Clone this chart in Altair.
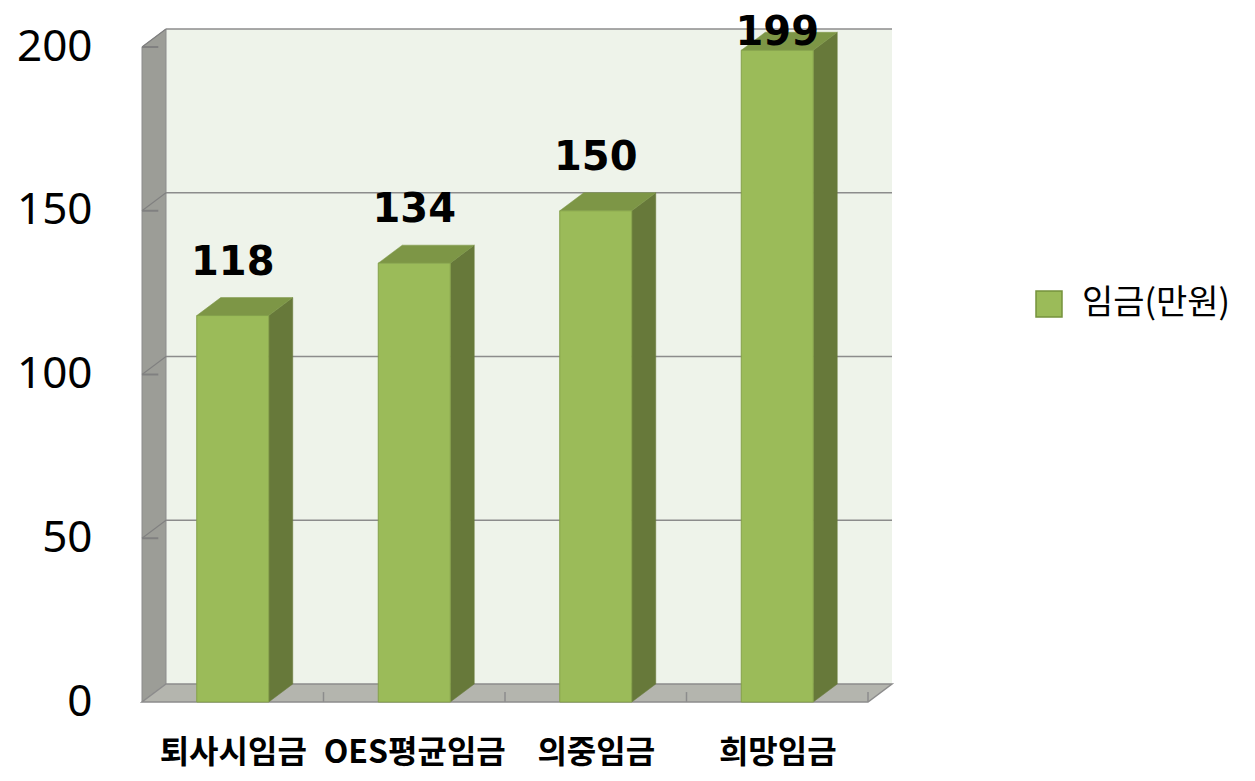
import altair as alt
import pandas as pd

# ---------------- data ----------------
categories = ["퇴사시임금", "OES평균임금", "의중임금", "희망임금"]
wages = [118, 134, 150, 199]
series_name = "임금(만원)"
y_ticks = [0, 50, 100, 150, 200]

# ---------------- style / geometry ----------------
N = len(categories)
YMAX = 200
SLOT_PX = 181.5          # width of one category slot on the front plane
UNIT_PX = 3.275          # pixels per value unit
DEPTH_X_PX = 24          # 3-D depth offset (pixels)
DEPTH_Y_PX = 18
DX = DEPTH_X_PX / SLOT_PX
DY = DEPTH_Y_PX / UNIT_PX
BAR_W = 72 / SLOT_PX
LABEL_CAP = 188          # value labels are kept inside the chart area
W = SLOT_PX * N + DEPTH_X_PX
H = UNIT_PX * YMAX + DEPTH_Y_PX

GREEN = "#9BBB59"
GREEN_SIDE = "#67793A"
GREEN_TOP = "#7D9646"
GREEN_EDGE = "#84A04A"
WALL = "#EEF3EA"
SIDE_WALL = "#9C9D97"
FLOOR = "#B4B5AE"
LINE = "#8C8C8C"

xs = alt.Scale(domain=[0, N + DX], nice=False, zero=False)
ys = alt.Scale(domain=[0, YMAX + DY], nice=False, zero=False)

label_expr = "[" + ",".join("'" + c + "'" for c in categories) + "][floor(datum.value)]"

x_axis = alt.Axis(
    values=[i + 0.5 for i in range(N)], labelExpr=label_expr,
    labelFont="Noto Sans CJK KR", labelFontWeight="bold", labelFontSize=32,
    labelColor="black", labelPadding=35, labelLimit=400, labelOverlap=False,
    ticks=False, domain=False, grid=False, labelFlush=False, title=None)
y_axis = alt.Axis(
    values=y_ticks, labelFont="Noto Sans", labelFontSize=44, labelColor="black",
    labelPadding=50, ticks=False, domain=False, grid=False, labelFlush=False,
    title=None)

# ---------------- derived tables ----------------
back_wall = pd.DataFrame({"x": [DX], "x2": [N + DX], "y": [DY], "y2": [YMAX + DY]})
side_wall = pd.DataFrame({"x": [0, DX], "y": [YMAX, YMAX + DY], "y2": [0, DY]})
floor = pd.DataFrame({"y": [0, DY], "x": [0, DX], "x2": [N, N + DX]})
grid = pd.DataFrame({"v": y_ticks[1:]})
grid["vb"] = grid["v"] + DY
grid["x0"] = 0.0
grid["xb"] = DX
grid["xe"] = N + DX
grid["xt"] = DX * 0.68
floor_ticks = pd.DataFrame({"k": list(range(1, N + 1))})
floor_ticks["y"] = 0.0
floor_ticks["y2"] = DY * 0.55

bars = pd.DataFrame({"cat": categories, "v": wages, "i": list(range(N))})
bars["l"] = bars["i"] + 0.5 - BAR_W / 2
bars["r"] = bars["i"] + 0.5 + BAR_W / 2
bars["base"] = 0.0
bars["c"] = bars["i"] + 0.5
bars["lab"] = bars["v"].clip(upper=LABEL_CAP)
bars["series"] = series_name

side_rows, top_rows = [], []
for _, b in bars.iterrows():
    side_rows.append({"id": b["i"], "x": b["r"], "y": b["v"], "y2": 0.0})
    side_rows.append({"id": b["i"], "x": b["r"] + DX, "y": b["v"] + DY, "y2": DY})
    top_rows.append({"id": b["i"], "y": b["v"], "x": b["l"], "x2": b["r"]})
    top_rows.append({"id": b["i"], "y": b["v"] + DY, "x": b["l"] + DX, "x2": b["r"] + DX})
bar_side = pd.DataFrame(side_rows)
bar_top = pd.DataFrame(top_rows)

X = lambda f: alt.X(f, scale=xs, axis=x_axis, title=None)
Y = lambda f: alt.Y(f, scale=ys, axis=y_axis, title=None)

# ---------------- layers ----------------
wall_layer = alt.Chart(back_wall).mark_rect(fill=WALL).encode(
    x=X("x:Q"), x2="x2:Q", y=Y("y:Q"), y2="y2:Q")

side_layer = alt.Chart(side_wall).mark_area(
    fill=SIDE_WALL, stroke=LINE, strokeWidth=1, orient="vertical").encode(
    x=X("x:Q"), y=Y("y:Q"), y2="y2:Q")

floor_layer = alt.Chart(floor).mark_area(
    fill=FLOOR, stroke=LINE, strokeWidth=1.5, orient="horizontal").encode(
    y=Y("y:Q"), x=X("x:Q"), x2="x2:Q")

grid_back = alt.Chart(grid).mark_rule(color=LINE, strokeWidth=1.5).encode(
    x=X("xb:Q"), x2="xe:Q", y=Y("vb:Q"))
grid_diag = alt.Chart(grid).mark_rule(color="#808080", strokeWidth=1.2).encode(
    x=X("x0:Q"), x2="xb:Q", y=Y("v:Q"), y2="vb:Q")
grid_tick = alt.Chart(grid).mark_rule(color="#808080", strokeWidth=2).encode(
    x=X("x0:Q"), x2="xt:Q", y=Y("v:Q"))

ftick_layer = alt.Chart(floor_ticks).mark_rule(color=LINE, strokeWidth=1.5).encode(
    x=X("k:Q"), y=Y("y:Q"), y2="y2:Q")

side_face = alt.Chart(bar_side).mark_area(
    fill=GREEN_SIDE, stroke=GREEN_SIDE, strokeWidth=0.5, orient="vertical").encode(
    x=X("x:Q"), y=Y("y:Q"), y2="y2:Q", detail="id:N")

top_face = alt.Chart(bar_top).mark_area(
    fill=GREEN_TOP, stroke=GREEN_TOP, strokeWidth=0.5, orient="horizontal").encode(
    y=Y("y:Q"), x=X("x:Q"), x2="x2:Q", detail="id:N")

front_face = alt.Chart(bars).mark_rect(stroke=GREEN_EDGE, strokeWidth=1).encode(
    x=X("l:Q"), x2="r:Q",
    y=Y("v:Q"), y2="base:Q",
    color=alt.Color("series:N", scale=alt.Scale(domain=[series_name], range=[GREEN]),
                    legend=alt.Legend(title=None, orient="none", legendX=890, legendY=258,
                                      symbolType="square", symbolSize=676,
                                      symbolStrokeColor="#76923C", symbolStrokeWidth=1.5,
                                      labelFont="Noto Sans CJK KR", labelFontSize=34,
                                      labelColor="black", labelOffset=16, padding=0,
                                      labelLimit=400)),
)

value_labels = alt.Chart(bars).mark_text(
    font="DejaVu Sans", fontWeight="bold", fontSize=40, color="black",
    baseline="alphabetic", align="center", dy=-41).encode(
    x=X("c:Q"), y=Y("lab:Q"), text="v:Q")

chart = alt.layer(
    wall_layer, side_layer, floor_layer, grid_back, grid_diag, grid_tick, ftick_layer,
    side_face, top_face, front_face, value_labels
).properties(
    width=W, height=H,
    autosize=alt.AutoSizeParams(type="none"),
    padding={"left": 134, "top": 21, "right": 355, "bottom": 70},
    background="white",
).configure_view(stroke=None)

chart.save("out.html", embed_options={"renderer": "svg", "actions": False})
